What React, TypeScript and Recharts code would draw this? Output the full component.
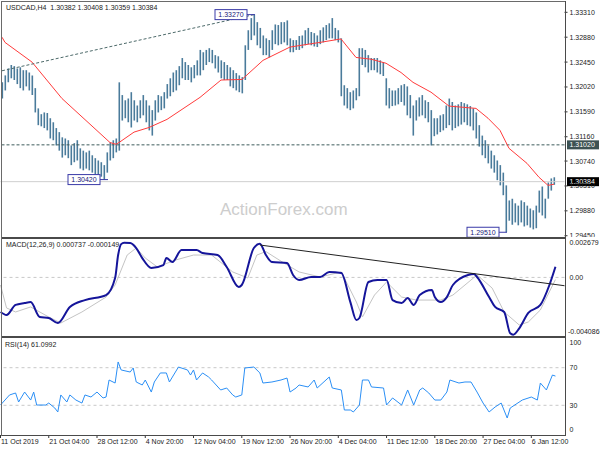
import React from 'react';
import {
  ComposedChart,
  Bar,
  Line,
  XAxis,
  YAxis,
  ReferenceLine,
  ReferenceDot,
} from 'recharts';

// H4 bars (one slot every 3px)
const barHigh = [
  1.3210, 1.3222, 1.3234, 1.3240, 1.3238, 1.3234, 1.3236, 1.3231, 1.3231, 1.3227,
  1.3222, 1.3200, 1.3165, 1.3155, 1.3158, 1.3157, 1.3148, 1.3141, 1.3131, 1.3124,
  1.3115, 1.3113, 1.3110, 1.3101, 1.3105, 1.3110, 1.3096, 1.3092, 1.3089, 1.3092,
  1.3084, 1.3079, 1.3075, 1.3072, 1.3067, 1.3089, 1.3106, 1.3110, 1.3113, 1.3210,
  1.3188, 1.3179, 1.3182, 1.3193, 1.3179, 1.3170, 1.3179, 1.3188, 1.3179, 1.3170,
  1.3162, 1.3179, 1.3188, 1.3186, 1.3193, 1.3207, 1.3217, 1.3227, 1.3231, 1.3238,
  1.3252, 1.3245, 1.3240, 1.3236, 1.3240, 1.3248, 1.3266, 1.3262, 1.3266, 1.3269,
  1.3266, 1.3257, 1.3255, 1.3248, 1.3245, 1.3240, 1.3236, 1.3231, 1.3226, 1.3222,
  1.3219, 1.3274, 1.3300, 1.3321, 1.3327, 1.3314, 1.3304, 1.3291, 1.3286, 1.3283,
  1.3300, 1.3310, 1.3309, 1.3314, 1.3314, 1.3317, 1.3286, 1.3283, 1.3283, 1.3290,
  1.3291, 1.3300, 1.3304, 1.3297, 1.3295, 1.3291, 1.3300, 1.3305, 1.3309, 1.3312,
  1.3321, 1.3304, 1.3300, 1.3286, 1.3205, 1.3200, 1.3193, 1.3196, 1.3200, 1.3269,
  1.3269, 1.3266, 1.3257, 1.3252, 1.3252, 1.3252, 1.3248, 1.3245, 1.3217, 1.3200,
  1.3196, 1.3196, 1.3200, 1.3205, 1.3207, 1.3203, 1.3188, 1.3170, 1.3179, 1.3184,
  1.3188, 1.3179, 1.3176, 1.3162, 1.3148, 1.3148, 1.3153, 1.3155, 1.3170, 1.3182,
  1.3176, 1.3170, 1.3172, 1.3176, 1.3174, 1.3172, 1.3169, 1.3165, 1.3158, 1.3136,
  1.3118, 1.3110, 1.3101, 1.3092, 1.3084, 1.3075, 1.3067, 1.3054, 1.3032, 1.3006,
  1.3009, 1.3001, 1.2997, 1.3006, 1.3003, 1.2997, 1.2992, 1.2989, 1.2997, 1.3023,
  1.3030, 1.3009, 1.3037, 1.3044, 1.3046,
];
const barLow = [
  1.3182, 1.3196, 1.3210, 1.3217, 1.3214, 1.3207, 1.3200, 1.3196, 1.3203, 1.3196,
  1.3188, 1.3158, 1.3136, 1.3134, 1.3131, 1.3127, 1.3113, 1.3110, 1.3101, 1.3092,
  1.3080, 1.3084, 1.3079, 1.3067, 1.3072, 1.3075, 1.3061, 1.3058, 1.3061, 1.3058,
  1.3054, 1.3051, 1.3049, 1.3047, 1.3042, 1.3054, 1.3075, 1.3079, 1.3089, 1.3092,
  1.3144, 1.3148, 1.3141, 1.3132, 1.3144, 1.3141, 1.3148, 1.3153, 1.3141, 1.3127,
  1.3118, 1.3144, 1.3158, 1.3162, 1.3165, 1.3182, 1.3186, 1.3193, 1.3196, 1.3205,
  1.3217, 1.3214, 1.3214, 1.3210, 1.3217, 1.3222, 1.3222, 1.3231, 1.3240, 1.3245,
  1.3243, 1.3234, 1.3227, 1.3217, 1.3214, 1.3214, 1.3203, 1.3200, 1.3196, 1.3193,
  1.3191, 1.3214, 1.3266, 1.3283, 1.3291, 1.3274, 1.3269, 1.3257, 1.3257, 1.3253,
  1.3266, 1.3276, 1.3274, 1.3276, 1.3279, 1.3274, 1.3262, 1.3262, 1.3266, 1.3266,
  1.3269, 1.3274, 1.3276, 1.3274, 1.3272, 1.3271, 1.3276, 1.3279, 1.3283, 1.3286,
  1.3286, 1.3283, 1.3279, 1.3186, 1.3170, 1.3165, 1.3162, 1.3165, 1.3179, 1.3186,
  1.3240, 1.3236, 1.3227, 1.3231, 1.3231, 1.3227, 1.3224, 1.3221, 1.3170, 1.3165,
  1.3169, 1.3170, 1.3172, 1.3176, 1.3170, 1.3153, 1.3148, 1.3118, 1.3144, 1.3151,
  1.3153, 1.3148, 1.3141, 1.3101, 1.3117, 1.3120, 1.3124, 1.3127, 1.3131, 1.3136,
  1.3127, 1.3131, 1.3134, 1.3137, 1.3141, 1.3136, 1.3134, 1.3127, 1.3113, 1.3099,
  1.3084, 1.3079, 1.3070, 1.3061, 1.3054, 1.3041, 1.3032, 1.3015, 1.2951, 1.2971,
  1.2964, 1.2968, 1.2963, 1.2968, 1.2961, 1.2963, 1.2959, 1.2956, 1.2958, 1.2985,
  1.2980, 1.2975, 1.3009, 1.3023, 1.3033,
];

// red moving average, [slot, price]
const maPoints: [number, number][] = [
  [0, 1.3288], [1, 1.3279], [10, 1.3245], [20, 1.3182], [28, 1.3144], [36, 1.3106],
  [38, 1.3103], [39, 1.3106], [44, 1.3124], [49, 1.3132], [55, 1.3146], [66, 1.3184],
  [73, 1.3214], [80, 1.3215], [87, 1.3248], [96, 1.3271], [106, 1.3279], [113, 1.3285],
  [118, 1.3253], [123, 1.3250], [128, 1.3243], [133, 1.3227], [137, 1.3210], [143, 1.3193],
  [149, 1.3169], [158, 1.3165], [162, 1.3148], [166, 1.3127], [169, 1.3096], [175, 1.3070],
  [179, 1.3046], [182, 1.3032], [184, 1.3034],
];
const trendPoints: [number, number][] = [[0, 1.3230], [84, 1.3327]];

const macdPoints: [number, number][] = [
  [0, -0.00241], [2, -0.00262], [5, -0.00192], [8, -0.00179], [10, -0.00172], [13, -0.00276],
  [16, -0.00283], [19, -0.00318], [23, -0.00206], [28, -0.00158], [35, -0.00123], [38, -0.00004],
  [39, 0.00156], [40, 0.00232], [41, 0.00242], [43, 0.0024], [45, 0.00205], [47, 0.00135], [50, 0.00066],
  [54, 0.00086], [55, 0.00135], [57, 0.00107], [60, 0.00191], [65, 0.00191], [67, 0.0017],
  [72, 0.00156], [75, 0.00073], [79, -0.00067], [80, -0.00053], [84, 0.00205], [86, 0.00235],
  [88, 0.00156], [90, 0.00107], [95, 0.001], [97, 0.00017], [99, -0.00018], [103, 0.00003],
  [106, 0.00003], [109, 0.00038], [113, 0.00031], [116, -0.00172], [118, -0.00297], [119, -0.00283],
  [122, -0.00032], [125, -0.00018], [128, -0.00018], [130, -0.00158], [133, -0.00179], [135, -0.00144],
  [137, -0.00192], [139, -0.00123], [143, -0.00088], [144, -0.00137], [146, -0.00172], [148, -0.00137],
  [150, -0.00053], [155, 0.00017], [157, 0.00024], [158, 0.00003], [162, -0.00137], [164, -0.00206],
  [167, -0.00241], [169, -0.0039], [170, -0.004], [172, -0.00355], [175, -0.00248], [179, -0.00192],
  [182, -0.00053], [184, 0.00074],
];
const signalPoints: [number, number][] = [
  [0, -0.00053], [2, -0.00213], [5, -0.00241], [10, -0.00206], [16, -0.00276], [20, -0.00318],
  [27, -0.00241], [35, -0.00137], [38, -0.00053], [42, 0.00156], [45, 0.00205], [48, 0.00135],
  [52, 0.00073], [58, 0.00121], [64, 0.00156], [70, 0.00156], [77, 0.00038], [82, -0.00004],
  [85, 0.00156], [88, 0.0018], [94, 0.001], [99, 0.00038], [106, 0.00003], [113, 0.00038],
  [118, -0.00172], [120, -0.00276], [124, -0.00123], [128, -0.00032], [133, -0.00137], [138, -0.00158],
  [146, -0.00158], [150, -0.00123], [158, 0.00017], [163, -0.00074], [167, -0.00241], [172, -0.00332],
  [175, -0.00311], [179, -0.00227], [184, -0.00015],
];
const macdTrend: [number, number][] = [[86, 0.00226], [187, -0.00058]];

const rsiPoints: [number, number][] = [
  [0, 30.3], [3, 41.0], [5, 43.1], [6, 33.5], [8, 44.1], [10, 35.6], [11, 44.1], [12, 30.3],
  [15, 30.3], [16, 32.4], [18, 27.1], [19, 22.9], [20, 41.0], [22, 33.5], [23, 41.0], [25, 35.6],
  [27, 32.4], [28, 41.0], [30, 38.8], [32, 44.1], [34, 37.8], [35, 38.8], [36, 56.9], [38, 53.7],
  [39, 76.1], [40, 67.6], [43, 65.4], [44, 69.7], [45, 54.8], [47, 51.6], [48, 56.9], [50, 44.1],
  [51, 54.8], [53, 64.4], [55, 64.4], [56, 54.8], [59, 70.7], [62, 67.6], [63, 62.2], [64, 67.6],
  [65, 56.9], [67, 64.4], [69, 60.1], [70, 56.9], [73, 46.3], [75, 48.4], [77, 41.0], [78, 38.8],
  [80, 41.0], [81, 69.7], [84, 70.7], [86, 64.4], [87, 53.7], [90, 54.8], [93, 56.9], [95, 59.0],
  [96, 44.1], [98, 48.4], [99, 51.6], [102, 49.5], [104, 56.9], [105, 48.4], [109, 60.1], [110, 48.4],
  [113, 46.3], [114, 25.0], [116, 25.0], [117, 22.9], [119, 30.3], [120, 56.9], [122, 56.9], [123, 49.5],
  [127, 48.4], [128, 30.3], [130, 37.8], [133, 30.3], [135, 46.3], [137, 30.3], [139, 46.3], [140, 48.4],
  [142, 43.1], [144, 35.6], [146, 35.6], [148, 44.1], [149, 56.9], [152, 53.7], [154, 54.8], [156, 54.8],
  [158, 44.1], [160, 32.4], [162, 22.9], [164, 28.2], [166, 32.4], [168, 16.5], [169, 27.1], [173, 35.6],
  [176, 38.8], [178, 35.6], [179, 53.7], [181, 46.3], [183, 62.2], [184, 61.1],
];

const priceTicks = [1.3331, 1.3288, 1.3245, 1.3202, 1.3159, 1.3116, 1.3074, 1.3031, 1.2988, 1.2945];
const dateTicks = [0, 16, 32, 48, 64, 80, 96, 112, 128, 144, 160, 176];
const dateLabels = [
  '11 Oct 2019', '21 Oct 04:00', '28 Oct 12:00', '4 Nov 20:00', '12 Nov 04:00', '19 Nov 12:00',
  '26 Nov 20:00', '4 Dec 04:00', '11 Dec 12:00', '18 Dec 20:00', '27 Dec 04:00', '6 Jan 12:00',
];

const SLOTS = 188;
const FONT = '"Liberation Sans", Arial, sans-serif';
const PRICE_DOMAIN: [number, number] = [1.29428, 1.33488];
const MACD_DOMAIN: [number, number] = [-0.004086, 0.002679];
const RSI_DOMAIN: [number, number] = [-1.6, 101.6];

const lookup = (pts: [number, number][]) => {
  const m = new Map(pts);
  return (k: number) => (m.has(k) ? (m.get(k) as number) : null);
};

const maAt = lookup(maPoints);
const trendAt = lookup(trendPoints);
const macdAt = lookup(macdPoints);
const signalAt = lookup(signalPoints);
const macdTrendAt = lookup(macdTrend);
const rsiAt = lookup(rsiPoints);

const priceRows = Array.from({ length: SLOTS }, (_, k) => ({
  k,
  range: k < barHigh.length ? [barLow[k], barHigh[k]] : null,
  ma: maAt(k),
  trend: trendAt(k),
}));
const macdRows = Array.from({ length: SLOTS }, (_, k) => ({
  k,
  macd: macdAt(k),
  signal: signalAt(k),
  trend: macdTrendAt(k),
}));
const rsiRows = Array.from({ length: SLOTS }, (_, k) => ({ k, rsi: rsiAt(k) }));

const MARGIN = { top: 0, right: 0, bottom: 0, left: 0.5 };
const AXIS_W = 35.5;

const PriceTick = (props: any) => {
  const { x, y, payload } = props;
  return (
    <g>
      <line x1={x - 5} x2={x - 2} y1={y} y2={y} stroke="#333" />
      <text x={x} y={y} dy={2.5} fontSize={7} fontFamily={FONT} fill="#222">
        {Number(payload.value).toFixed(5)}
      </text>
    </g>
  );
};

const MacdTick = (props: any) => {
  const { x, y, payload } = props;
  const v = Number(payload.value);
  const dy = v === MACD_DOMAIN[1] ? 5.8 : v === MACD_DOMAIN[0] ? -1.8 : 2.5;
  const txt = v === 0 ? '0.00' : v.toFixed(6);
  return (
    <text x={v < 0 ? x - 1.5 : x} y={y} dy={dy} fontSize={7} fontFamily={FONT} fill="#222">
      {txt}
    </text>
  );
};

const RsiTick = (props: any) => {
  const { x, y, payload } = props;
  const v = Number(payload.value);
  const dy = v === 100 ? 5.7 : v === 0 ? -1.7 : 2.5;
  return (
    <text x={x} y={y} dy={dy} fontSize={7} fontFamily={FONT} fill="#222">
      {v}
    </text>
  );
};

const DateTick = (props: any) => {
  const { x, y, payload } = props;
  const i = dateTicks.indexOf(payload.value);
  return (
    <g>
      <line x1={x} x2={x} y1={y} y2={y + 3} stroke="#333" />
      <text x={x + 0.5} y={y + 8.5} fontSize={7} fontFamily={FONT} fill="#222">
        {dateLabels[i]}
      </text>
    </g>
  );
};

// boxed price on the axis, hung on a ReferenceLine
const axisBox = (text: string, fill: string) => (props: any) => {
  const vb = props.viewBox || {};
  const right = (vb.x || 0) + (vb.width || 0);
  const y = vb.y || 0;
  return (
    <g>
      <rect x={right + 2.5} y={y - 4.5} width={32} height={9} fill={fill} />
      <text x={right + 5} y={y} dy={2.5} fontSize={7} fontFamily={FONT} fill="#fff">
        {text}
      </text>
    </g>
  );
};

// high / low tag with a short leader to the bar
const tag = (text: string) => (props: any) => {
  const { cx, cy } = props;
  return (
    <g>
      <line x1={cx - 4} x2={cx + 4} y1={cy} y2={cy} stroke="#3a3aa8" />
      <rect x={cx - 36} y={cy - 5} width={32} height={10} fill="#fff" stroke="#3a3aa8" />
      <text x={cx - 20} y={cy} dy={2.5} textAnchor="middle" fontSize={7} fontFamily={FONT} fill="#20207a">
        {text}
      </text>
    </g>
  );
};

const label: React.CSSProperties = {
  position: 'absolute',
  fontFamily: FONT,
  fontSize: 7,
  lineHeight: '8px',
  color: '#1a1a1a',
  whiteSpace: 'nowrap',
};

const hLine = (top: number, height: number, color = '#4a4a4a'): React.CSSProperties => ({
  position: 'absolute', left: 1.5, width: 564, top, height, background: color,
});

export default function App() {
  return (
    <div style={{ position: 'absolute', left: 0, top: 0, width: 600, height: 450, background: '#fff', overflow: 'hidden' }}>
      {/* price panel */}
      <div style={{ position: 'absolute', left: 0, top: 2 }}>
        <ComposedChart width={600} height={235} data={priceRows} margin={MARGIN} barSize={1.6}>
          <XAxis dataKey="k" hide />
          <YAxis
            orientation="right"
            width={AXIS_W}
            domain={PRICE_DOMAIN}
            allowDataOverflow
            ticks={priceTicks}
            interval={0}
            tick={<PriceTick />}
            tickLine={false}
            axisLine={false}
            tickSize={3}
            tickMargin={2}
          />
          <ReferenceLine y={1.30384} stroke="#cfcfcf" label={axisBox('1.30384', '#000')} />
          <ReferenceLine y={1.3102} stroke="#3d5c5c" strokeDasharray="3 2" label={axisBox('1.31020', '#3d5252')} />
          <Bar dataKey="range" fill="#4a7b9b" isAnimationActive={false} />
          <Line dataKey="ma" stroke="#ff3b3b" strokeWidth={1} dot={false} connectNulls isAnimationActive={false} />
          <Line dataKey="trend" stroke="#4d6a6a" strokeWidth={1} strokeDasharray="3 2" dot={false} connectNulls isAnimationActive={false} />
          <ReferenceDot x={34} y={1.3042} shape={tag('1.30420')} />
          <ReferenceDot x={83} y={1.3327} shape={tag('1.33270')} />
          <ReferenceDot x={167} y={1.2951} shape={tag('1.29510')} />
        </ComposedChart>
      </div>

      {/* MACD panel */}
      <div style={{ position: 'absolute', left: 0, top: 239 }}>
        <ComposedChart width={600} height={97} data={macdRows} margin={MARGIN}>
          <XAxis dataKey="k" hide />
          <YAxis
            orientation="right"
            width={AXIS_W}
            domain={MACD_DOMAIN}
            allowDataOverflow
            ticks={[MACD_DOMAIN[1], 0, MACD_DOMAIN[0]]}
            interval={0}
            tick={<MacdTick />}
            tickLine={false}
            axisLine={false}
            tickSize={3}
            tickMargin={2}
          />
          <ReferenceLine y={0} stroke="#c8c8c8" strokeDasharray="3 3" />
          <Line dataKey="signal" stroke="#c4c4c4" strokeWidth={1} dot={false} connectNulls isAnimationActive={false} />
          <Line dataKey="macd" type="monotone" stroke="#15159a" strokeWidth={2} dot={false} connectNulls isAnimationActive={false} />
          <Line dataKey="trend" stroke="#222" strokeWidth={1} dot={false} connectNulls isAnimationActive={false} />
        </ComposedChart>
      </div>

      {/* RSI panel */}
      <div style={{ position: 'absolute', left: 0, top: 338 }}>
        <ComposedChart width={600} height={113} data={rsiRows} margin={MARGIN}>
          <XAxis
            dataKey="k"
            height={16}
            ticks={dateTicks}
            interval={0}
            tick={<DateTick />}
            tickLine={false}
            axisLine={false}
            tickSize={0}
            tickMargin={0}
          />
          <YAxis
            orientation="right"
            width={AXIS_W}
            domain={RSI_DOMAIN}
            allowDataOverflow
            ticks={[100, 70, 30, 0]}
            interval={0}
            tick={<RsiTick />}
            tickLine={false}
            axisLine={false}
            tickSize={3}
            tickMargin={2}
          />
          <ReferenceLine y={70} stroke="#c8c8c8" strokeDasharray="3 3" />
          <ReferenceLine y={30} stroke="#c8c8c8" strokeDasharray="3 3" />
          <Line dataKey="rsi" stroke="#2b8ff5" strokeWidth={1} dot={false} connectNulls isAnimationActive={false} />
        </ComposedChart>
      </div>

      {/* frames */}
      <div style={hLine(1, 1, '#6a6a6a')} />
      <div style={hLine(236.5, 2.5)} />
      <div style={hLine(335.5, 2.5)} />
      <div style={hLine(435, 1)} />
      <div style={{ position: 'absolute', left: 1, top: 1, width: 1, height: 435, background: '#6a6a6a' }} />
      <div style={{ position: 'absolute', left: 564.5, top: 1, width: 1, height: 435, background: '#4a4a4a' }} />

      {/* texts */}
      <div style={{ ...label, left: 6, top: 3.5 }}>USDCAD,H4&nbsp;&nbsp;1.30382 1.30408 1.30359 1.30384</div>
      <div style={{ ...label, left: 6, top: 241 }}>MACD(12,26,9) 0.000737 -0.000149</div>
      <div style={{ ...label, left: 5, top: 340.5 }}>RSI(14) 61.0992</div>
      <div style={{ position: 'absolute', left: 220, top: 200, fontFamily: FONT, fontSize: 17, color: '#cdcdcd', whiteSpace: 'nowrap' }}>
        ActionForex.com
      </div>
    </div>
  );
}
